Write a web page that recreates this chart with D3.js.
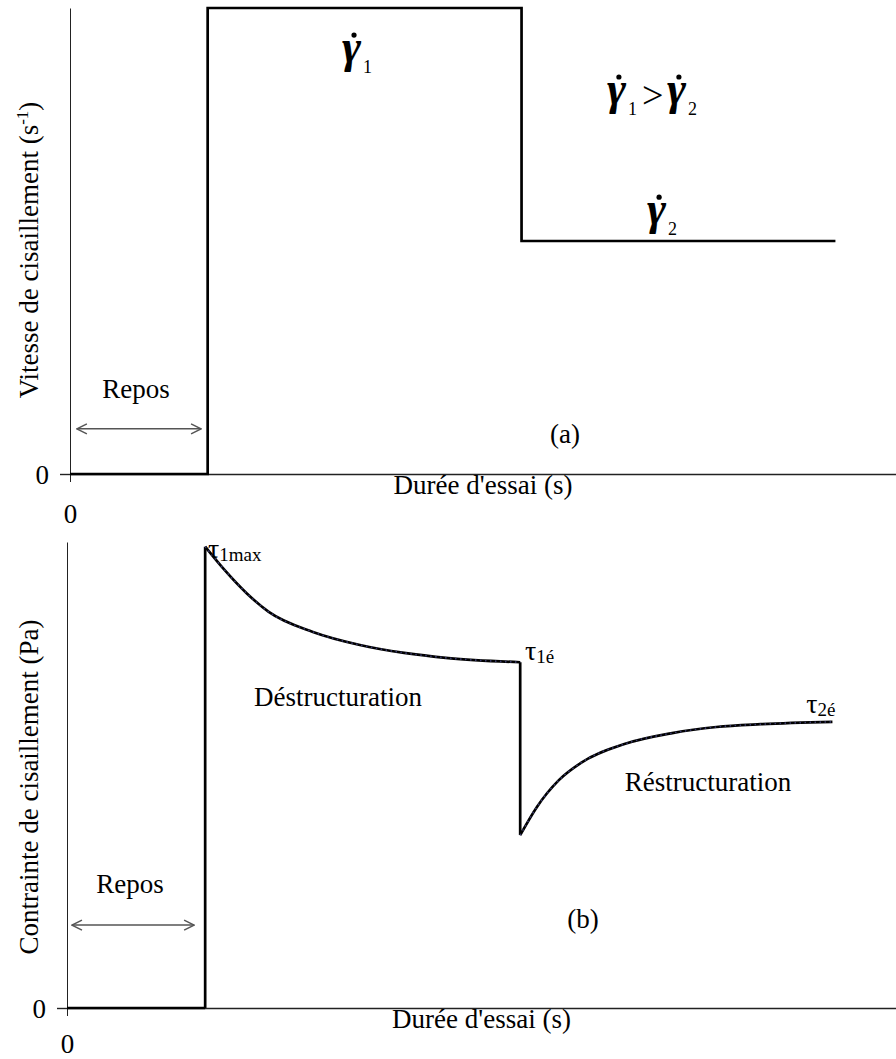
<!DOCTYPE html>
<html>
<head>
<meta charset="utf-8">
<script src="https://cdn.jsdelivr.net/npm/d3@7"></script>
<style>
html,body{margin:0;padding:0;background:#fff;}
svg{display:block;}
text{font-family:"Liberation Serif","Times New Roman",serif;fill:#000;}
</style>
</head>
<body>
<svg id="chart" width="896" height="1059"></svg>
<script>
// ---------- data ----------
// Panel (a): imposed shear rate (arbitrary units) vs test time
const timeA = [0, 5, 5, 16.4, 16.4, 27.8];
const shearRate = [0, 0, 10, 10, 5, 5];

// Panel (b): measured shear stress (arbitrary units) vs test time
const timeRest = [0, 5];
const stressRest = [0, 0];
const timeDestruct = [5, 5.7, 6.5, 7.3, 8.9, 10.6, 12.2, 13.8, 16.4];
const stressDestruct = [9.9, 9.4, 8.9, 8.5, 8.07, 7.79, 7.62, 7.51, 7.42];
const timeRestruct = [16.4, 17.0, 17.8, 18.6, 20.2, 21.9, 23.5, 25.1, 27.7];
const stressRestruct = [3.71, 4.31, 4.89, 5.26, 5.67, 5.90, 6.03, 6.09, 6.14];

const xTickValues = [0];
const yTickValues = [0];
const xTickLabels = ["0"];
const yTickLabels = ["0"];
const xTitle = "Durée d'essai (s)";
const yTitleA = "Vitesse de cisaillement (s";
const yTitleB = "Contrainte de cisaillement (Pa)";

// ---------- drawing ----------
const svg = d3.select("#chart");
const FS = 27;

const defs = svg.append("defs");
defs.append("marker").attr("id","arr").attr("viewBox","0 0 12 12")
  .attr("refX",11).attr("refY",6).attr("markerWidth",12).attr("markerHeight",12)
  .attr("markerUnits","userSpaceOnUse").attr("orient","auto-start-reverse")
  .append("path").attr("d","M1,1 L11,6 L1,11").attr("fill","none")
  .attr("stroke","#555").attr("stroke-width",1.5);

function panel(opts){
  const x = d3.scaleLinear().domain([0,30]).range(opts.xr);
  const y = d3.scaleLinear().domain([0,10]).range(opts.yr);
  const g = svg.append("g");

  // x axis
  const xa = g.append("g").attr("transform",`translate(0,${y(0)})`)
    .call(d3.axisBottom(x).tickValues(xTickValues).tickFormat((d,i)=>xTickLabels[i])
      .tickSize(8).tickSizeOuter(0).tickPadding(opts.xPad));
  xa.select(".domain").attr("stroke","#222").attr("stroke-width",1.4);
  xa.selectAll(".tick line").attr("stroke","#222").attr("stroke-width",1);
  xa.selectAll(".tick text").attr("font-size",FS).attr("font-family","Liberation Serif");

  // y axis
  const ya = g.append("g").attr("transform",`translate(${x(0)},0)`)
    .call(d3.axisLeft(y).tickValues(yTickValues).tickFormat((d,i)=>yTickLabels[i])
      .tickSize(10).tickSizeOuter(0).tickPadding(11));
  ya.select(".domain").attr("stroke","#222").attr("stroke-width",1);
  ya.selectAll(".tick line").attr("stroke","#222").attr("stroke-width",1.4);
  ya.selectAll(".tick text").attr("font-size",FS).attr("font-family","Liberation Serif")
    .attr("dy","0.35em");

  // x title
  g.append("text").attr("x",x(15)).attr("y",y(0)+opts.xTitleDy)
    .attr("text-anchor","middle").attr("font-size",FS).text(xTitle);

  // y title
  const yt = g.append("text").attr("transform",`translate(${opts.yTitleX},${opts.yTitleY}) rotate(-90)`)
    .attr("text-anchor","middle").attr("font-size",FS);
  opts.yTitle(yt);

  // rest arrow + label
  g.append("line").attr("x1",x(opts.arrow[0])).attr("x2",x(opts.arrow[1]))
    .attr("y1",y(opts.arrow[2])).attr("y2",y(opts.arrow[2]))
    .attr("stroke","#555").attr("stroke-width",1.5)
    .attr("marker-start","url(#arr)").attr("marker-end","url(#arr)");
  g.append("text").attr("x",x(opts.repos[0])).attr("y",y(opts.repos[1]))
    .attr("text-anchor","middle").attr("font-size",FS).text("Repos");
  g.append("text").attr("x",x(opts.tag[0])).attr("y",y(opts.tag[1]))
    .attr("text-anchor","middle").attr("font-size",FS).text(opts.tag[2]);
  return {x,y,g};
}

// Panel (a)
const A = panel({
  xr:[70,896], yr:[474,8], xTitleDy:20, xPad:22, yTitleX:38, yTitleY:250,
  yTitle:(t)=>{ t.append("tspan").text(yTitleA);
    t.append("tspan").attr("font-size",17).attr("dy",-10).text("-1");
    t.append("tspan").attr("dy",10).text(")"); },
  arrow:[0.25,4.76,0.97], repos:[2.4,1.63], tag:[17.98,0.67,"(a)"]
});
const lineA = d3.line().x(i=>A.x(timeA[i])).y(i=>A.y(shearRate[i]));
A.g.append("path").attr("d",lineA(d3.range(timeA.length)))
  .attr("fill","none").attr("stroke","#000").attr("stroke-width",2.7)
  .attr("stroke-linejoin","miter");

const GS = 46;
// gamma with a dot above (shear rate symbol) + subscript
function gammaDot(g, px, py, sub){
  g.append("text").attr("x",px).attr("y",py)
    .attr("font-style","italic").attr("font-weight","bold").attr("font-size",GS).text("γ");
  g.append("circle").attr("cx",px+12).attr("cy",py-27).attr("r",2.6).attr("fill","#000");
  g.append("text").attr("x",px+21).attr("y",py+11).attr("font-size",18).text(sub);
}
gammaDot(A.g, A.x(9.88), A.y(8.84), "1");
gammaDot(A.g, A.x(20.96), A.y(5.36), "2");
gammaDot(A.g, A.x(19.5), A.y(7.94), "1");
A.g.append("text").attr("x",A.x(19.5)+35).attr("y",A.y(7.94)+4)
  .attr("font-size",38).text(">");
gammaDot(A.g, A.x(19.5)+60, A.y(7.94), "2");

// Panel (b)
const B = panel({
  xr:[67,896], yr:[1008,542], xTitleDy:20, xPad:18, yTitleX:38, yTitleY:787,
  yTitle:(t)=>{ t.text(yTitleB); },
  arrow:[0.18,4.6,1.78], repos:[2.28,2.47], tag:[18.67,1.72,"(b)"]
});
const lineStep = d3.line().x(d=>B.x(d[0])).y(d=>B.y(d[1]));
const lineCurve = d3.line().x(d=>B.x(d[0])).y(d=>B.y(d[1])).curve(d3.curveMonotoneX);
const restPts = timeRest.map((t,i)=>[t,stressRest[i]]);
const destPts = timeDestruct.map((t,i)=>[t,stressDestruct[i]]);
const restrPts = timeRestruct.map((t,i)=>[t,stressRestruct[i]]);
const stepPts = [restPts[restPts.length-1], destPts[0]];
const dropPts = [destPts[destPts.length-1], restrPts[0]];
[restPts, stepPts, dropPts].forEach(p=>{
  B.g.append("path").attr("d",lineStep(p)).attr("fill","none")
    .attr("stroke","#000").attr("stroke-width",2.7);
});
[destPts, restrPts].forEach(p=>{
  B.g.append("path").attr("d",lineCurve(p)).attr("fill","none")
    .attr("stroke","#000").attr("stroke-width",2.7);
  B.g.append("path").attr("d",lineCurve(p)).attr("fill","none")
    .attr("stroke","#3b3b6e").attr("stroke-width",1.6).attr("stroke-dasharray","1.5,3.5");
});

function tau(g, px, py, sub){
  const t = g.append("text").attr("x",px).attr("y",py);
  t.append("tspan").attr("font-size",28).text("τ");
  t.append("tspan").attr("font-size",19).attr("dy",3).text(sub);
}
tau(B.g, B.x(5.1), B.y(9.66), "1max");
tau(B.g, B.x(16.57), B.y(7.47), "1é");
tau(B.g, B.x(26.75), B.y(6.33), "2é");
B.g.append("text").attr("x",B.x(9.81)).attr("y",B.y(6.48)).attr("text-anchor","middle")
  .attr("font-size",FS).text("Déstructuration");
B.g.append("text").attr("x",B.x(23.2)).attr("y",B.y(4.66)).attr("text-anchor","middle")
  .attr("font-size",FS).text("Réstructuration");
</script>
</body>
</html>
